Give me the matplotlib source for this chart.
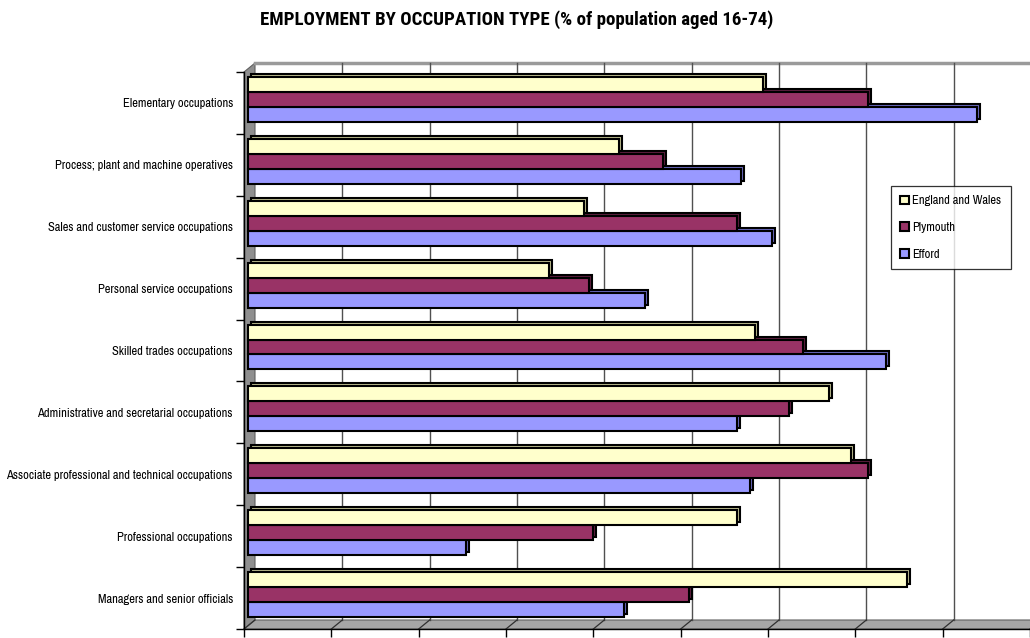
import numpy as np
import matplotlib
matplotlib.use("Agg")
import matplotlib.pyplot as plt
from matplotlib.patches import Polygon, Patch
from matplotlib.transforms import ScaledTranslation

# ──────────────────────────────────────────────────────────────────
# Data (% of population aged 16-74), bottom category first
# ──────────────────────────────────────────────────────────────────
categories = [
    "Managers and senior officials",
    "Professional occupations",
    "Associate professional and technical occupations",
    "Administrative and secretarial occupations",
    "Skilled trades occupations",
    "Personal service occupations",
    "Sales and customer service occupations",
    "Process; plant and machine operatives",
    "Elementary occupations",
]
england_wales = [15.1, 11.2, 13.8, 13.3, 11.6, 6.9, 7.7, 8.5, 11.8]
plymouth = [10.1, 7.9, 14.2, 12.4, 12.7, 7.8, 11.2, 9.5, 14.2]
efford = [8.6, 5.0, 11.5, 11.2, 14.6, 9.1, 12.0, 11.3, 16.7]

series_names = ["England and Wales", "Plymouth", "Efford"]
series_colors = ["#FFFFCC", "#993366", "#9999FF"]
side_colors = ["#BDBD8F", "#5E1F3F", "#6A6AC0"]

x_max = 18
x_step = 2

FONT = ["Liberation Sans Narrow", "Archivo Narrow", "DejaVu Sans"]
TITLE_FONT = ["Liberation Sans Narrow", "Roboto Condensed", "DejaVu Sans"]
plt.rcParams["font.family"] = FONT

fig = plt.figure(figsize=(10.30, 6.38), dpi=100)
W, H = 1030, 638
ax = fig.add_axes([244 / W, (H - 629) / H, (W - 244) / W, (629 - 72) / H])
ax.set_xlim(0, x_max)
ax.set_ylim(0, len(categories))


def off(dx, dy):
    """Data transform shifted by dx, dy pixels (depth effect)."""
    return ax.transData + ScaledTranslation(dx / 100, dy / 100, fig.dpi_scale_trans)


# Walls: back depth in pixels
DX, DY = 11, 9
fx, fy = DX / (W - 244), DY / (629 - 72)
ax.add_patch(Polygon([(0, 0), (0, 1), (fx, 1 + fy), (fx, fy)], closed=True,
                     transform=ax.transAxes, facecolor="#8f8f8f",
                     edgecolor="#606060", lw=0.8, clip_on=False, zorder=1))
ax.add_patch(Polygon([(0, 0), (1.02, 0), (1.02 + fx, fy), (fx, fy)], closed=True,
                     transform=ax.transAxes, facecolor="#a6a6a6",
                     edgecolor="#606060", lw=0.8, clip_on=False, zorder=1))
ax.plot([fx, 1.02], [1 + fy, 1 + fy], transform=ax.transAxes, color="#9a9a9a",
        lw=2.5, clip_on=False, zorder=1)

# Back wall gridlines + slanted floor lines
ticks = np.arange(0, x_max + 1, x_step)
for t in ticks[1:]:
    ax.plot([t, t], [0, len(categories)], transform=off(DX, DY),
            color="#505050", lw=1.0, clip_on=False, zorder=1.5)
for t in ticks:
    x0, y0 = ax.transData.transform((t, 0))
    ax.plot([x0, x0 + DX], [y0, y0 + DY], transform=None, color="#303030",
            lw=0.9, clip_on=False, zorder=1.6)

# Bars with 3D side/top faces
bar_h = 0.242
y_base = np.arange(len(categories))
offsets = [0.749, 0.508, 0.266]  # E&W top, Plymouth middle, Efford bottom
data = [england_wales, plymouth, efford]
for k, s in enumerate([2, 1, 0]):  # draw bottom bars first
    yc = y_base + offsets[s]
    z = 3 + k
    ax.barh(yc, data[s], height=bar_h, left=0, color=side_colors[s],
            edgecolor="black", lw=1.5, transform=off(7, 6), zorder=z)
    ax.barh(yc, data[s], height=bar_h, left=0, color=series_colors[s],
            edgecolor="black", lw=1.5, transform=off(4, 3), zorder=z + 0.5)

# Axes styling
for side in ["top", "right"]:
    ax.spines[side].set_visible(False)
for side in ["left", "bottom"]:
    ax.spines[side].set_color("black")
    ax.spines[side].set_linewidth(1.0)
    ax.spines[side].set_zorder(10)
ax.set_xticks(ticks)
ax.set_xticklabels([])
ax.tick_params(axis="x", direction="out", length=6, width=1.0, color="black")
ax.set_yticks(np.arange(len(categories) + 1))
ax.set_yticklabels([])
ax.tick_params(axis="y", which="major", direction="out", length=6, width=1.0)
ax.set_yticks(y_base + 0.5, minor=True)
ax.set_yticklabels(categories, minor=True, fontsize=9)
ax.tick_params(axis="y", which="minor", length=0, pad=8)
ax.patch.set_visible(False)

fig.text(517 / W, 1 - 20 / H, "EMPLOYMENT BY OCCUPATION TYPE (% of population aged 16-74)",
         ha="center", va="center", fontsize=13.6, fontweight="bold",
         family=TITLE_FONT)

handles = [Patch(facecolor=c, edgecolor="black", lw=1.5) for c in series_colors]
leg = fig.legend(handles, series_names, loc="upper left",
                 bbox_to_anchor=(891 / W, 1 - 186 / H), fontsize=9,
                 frameon=True, fancybox=False, borderpad=0.75, labelspacing=1.25,
                 handlelength=0.7, handleheight=0.7, handletextpad=0.25,
                 borderaxespad=0)
leg.get_frame().set_edgecolor("black")
leg.get_frame().set_linewidth(0.9)

fig.savefig("out.png", dpi=100)
